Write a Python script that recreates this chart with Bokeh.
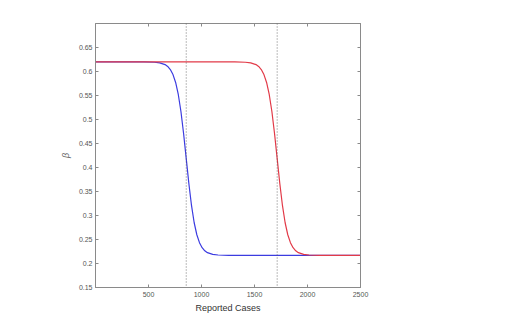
from bokeh.plotting import figure
from bokeh.models import Range1d, FixedTicker, LinearAxis, Span
from bokeh.embed import file_html
from bokeh.resources import INLINE

# ---- data ----
blue_x = [0, 456, 556, 606, 656, 681, 706, 731, 756, 781, 806, 831, 856,
          881, 906, 931, 956, 981, 1006, 1031, 1056, 1106, 1156, 1256, 2500]
blue_y = [0.620, 0.6199, 0.6193, 0.6180, 0.6144, 0.6105, 0.6041, 0.5936,
          0.5771, 0.5521, 0.5166, 0.4709, 0.4185, 0.3661, 0.3204, 0.2849,
          0.2599, 0.2434, 0.2329, 0.2265, 0.2226, 0.2190, 0.2177, 0.2171, 0.217]

red_x = [0, 1314, 1414, 1464, 1514, 1539, 1564, 1589, 1614, 1639, 1664, 1689,
         1714, 1739, 1764, 1789, 1814, 1839, 1864, 1889, 1914, 1964, 2014,
         2114, 2500]
red_y = [0.620, 0.6199, 0.6193, 0.6180, 0.6144, 0.6105, 0.6041, 0.5936,
         0.5771, 0.5521, 0.5166, 0.4709, 0.4185, 0.3661, 0.3204, 0.2849,
         0.2599, 0.2434, 0.2329, 0.2265, 0.2226, 0.2190, 0.2177, 0.2171, 0.217]

vlines = [856, 1714]

x_ticks = [500, 1000, 1500, 2000, 2500]
x_tick_labels = ["500", "1000", "1500", "2000", "2500"]
y_ticks = [0.15, 0.2, 0.25, 0.3, 0.35, 0.4, 0.45, 0.5, 0.55, 0.6, 0.65]
y_tick_labels = ["0.15", "0.2", "0.25", "0.3", "0.35", "0.4", "0.45",
                 "0.5", "0.55", "0.6", "0.65"]
x_label = "Reported Cases"
y_label = "β"

FONT = "Liberation Sans"
AXIS_COL = "#8a8a8a"
TICK_COL = "#555555"

p = figure(output_backend="svg", toolbar_location=None,
           frame_width=265, frame_height=264,
           min_border_left=95, min_border_top=23, min_border_bottom=32,
           min_border_right=140,
           x_range=Range1d(0, 2500), y_range=Range1d(0.15, 0.70),
           x_axis_label=x_label, y_axis_label=y_label)
p.xgrid.visible = False
p.ygrid.visible = False
p.outline_line_color = AXIS_COL
p.background_fill_color = "white"
p.border_fill_color = "white"

for v in vlines:
    p.add_layout(Span(location=v, dimension="height", line_color="#555555",
                      line_width=1, line_dash="1 2", line_alpha=0.8))

p.line(blue_x, blue_y, line_color="#3c3ce0", line_width=1.2)
p.line(red_x, red_y, line_color="#e23a48", line_width=1.2)

xa = p.xaxis[0]
xa.ticker = FixedTicker(ticks=x_ticks)
xa.major_label_overrides = dict(zip(x_ticks, x_tick_labels))
ya = p.yaxis[0]
ya.ticker = FixedTicker(ticks=y_ticks)
ya.major_label_overrides = dict(zip(y_ticks, y_tick_labels))

for ax in (xa, ya):
    ax.axis_line_color = AXIS_COL
    ax.major_tick_line_color = AXIS_COL
    ax.major_tick_in = 3
    ax.major_tick_out = 0
    ax.minor_tick_line_color = None
    ax.major_label_text_font = FONT
    ax.major_label_text_font_size = "7px"
    ax.major_label_text_color = TICK_COL
    ax.axis_label_text_font = FONT
    ax.axis_label_text_color = "#333333"

xa.major_label_standoff = 4
xa.axis_label_standoff = 3
xa.axis_label_text_font_size = "9px"
xa.axis_label_text_font_style = "normal"
ya.major_label_standoff = 3
ya.axis_label_standoff = 5
ya.axis_label_text_font_size = "9px"
ya.axis_label_text_font_style = "italic"
ya.axis_label_text_color = "#666666"

top = LinearAxis(ticker=FixedTicker(ticks=x_ticks),
                 major_label_overrides={t: "" for t in x_ticks})
right = LinearAxis(ticker=FixedTicker(ticks=y_ticks),
                   major_label_overrides={t: "" for t in y_ticks})
for ax in (top, right):
    ax.axis_line_color = AXIS_COL
    ax.major_tick_line_color = AXIS_COL
    ax.major_tick_in = 3
    ax.major_tick_out = 0
    ax.minor_tick_line_color = None
    ax.major_label_text_font_size = "7px"
    ax.major_label_standoff = 0
p.add_layout(top, "above")
p.add_layout(right, "right")

open("out.html", "w").write(file_html(p, INLINE))
